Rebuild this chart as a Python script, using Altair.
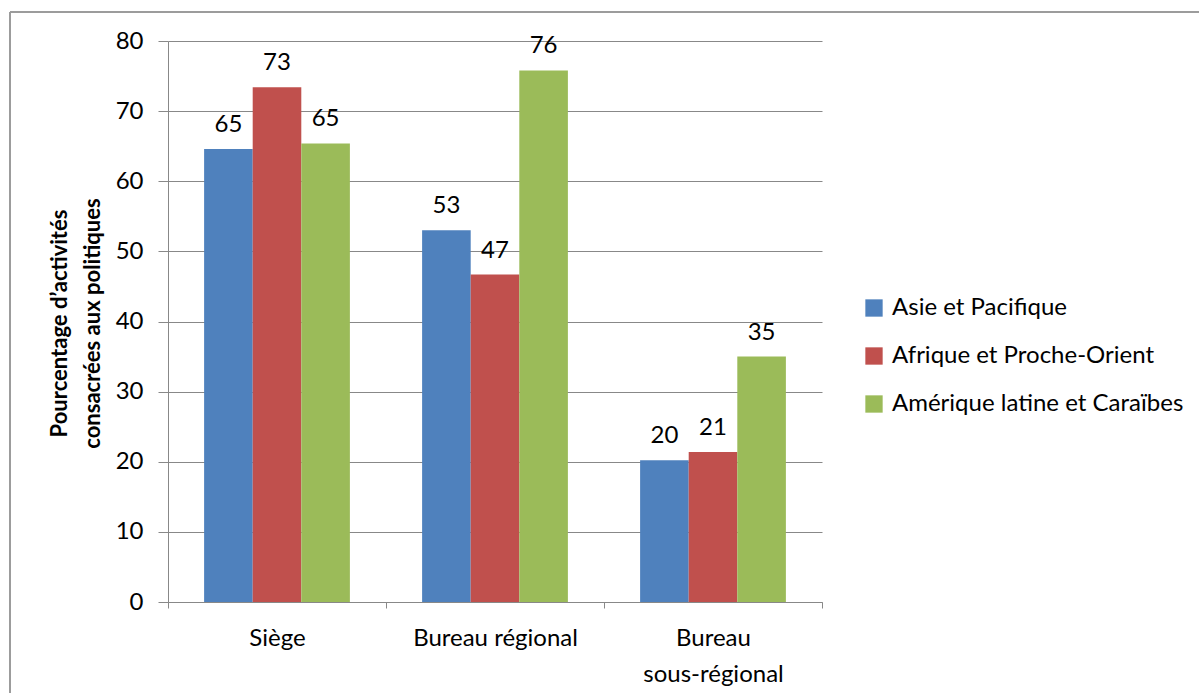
import altair as alt
import pandas as pd

# Bureaux (catégories de l'axe X) et régions (séries)
categories = ["Siège", "Bureau régional", "Bureau sous-régional"]
regions = ["Asie et Pacifique", "Afrique et Proche-Orient", "Amérique latine et Caraïbes"]

# Pourcentage d'activités consacrées aux politiques, par région
asie_pacifique = [64.6, 53.0, 20.2]
afrique_proche_orient = [73.4, 46.7, 21.4]
amerique_latine = [65.4, 75.8, 35.0]

colors = ["#4F81BD", "#C0504D", "#9BBB59"]
y_ticks = [0, 10, 20, 30, 40, 50, 60, 70, 80]

rows = []
for series_name, values in zip(regions, [asie_pacifique, afrique_proche_orient, amerique_latine]):
    for cat, v in zip(categories, values):
        rows.append({"bureau": cat, "region": series_name, "pct": v})
df = pd.DataFrame(rows)

FONT = "Lato"
FS = 24
GRID = "#888888"

x_enc = alt.X(
    "bureau:N",
    sort=categories,
    scale=alt.Scale(paddingInner=0, paddingOuter=0),
    axis=alt.Axis(
        title=None,
        labelAngle=0,
        labelFont=FONT,
        labelFontSize=FS,
        labelColor="#000000",
        labelPadding=18,
        labelLineHeight=36,
        labelLimit=0,
        labelExpr="datum.value == 'Bureau sous-régional' ? ['Bureau', 'sous-régional'] : datum.label",
        tickBand="extent",
        tickSize=6,
        tickColor=GRID,
        domainColor=GRID,
        grid=False,
    ),
)
xoff_enc = alt.XOffset(
    "region:N",
    sort=regions,
    scale=alt.Scale(paddingInner=0, paddingOuter=0.743),
)
y_enc = alt.Y(
    "pct:Q",
    scale=alt.Scale(domain=[0, 80], nice=False),
    axis=alt.Axis(
        title=["Pourcentage d’activités", "consacrées aux politiques"],
        titleFont=FONT,
        titleFontSize=22,
        titleFontWeight="bold",
        titleColor="#000000",
        titleLineHeight=33,
        titleAngle=-90,
        titleAlign="center",
        titleBaseline="alphabetic",
        titleX=-102,
        titleY=282,
        titleLimit=0,
        values=y_ticks,
        labelFont=FONT,
        labelFontSize=FS,
        labelColor="#000000",
        labelPadding=15,
        tickSize=10,
        tickColor=GRID,
        domainColor=GRID,
        gridColor=GRID,
        gridWidth=1,
    ),
)

base = alt.Chart(df).encode(x=x_enc, xOffset=xoff_enc, y=y_enc)

bars = base.mark_bar(strokeWidth=0).encode(
    color=alt.Color(
        "region:N",
        sort=regions,
        scale=alt.Scale(domain=regions, range=colors),
        legend=alt.Legend(
            title=None,
            orient="none",
            legendX=694,
            legendY=255,
            symbolType="square",
            symbolSize=300,
            symbolStrokeWidth=0,
            labelFont=FONT,
            labelFontSize=FS,
            labelColor="#000000",
            labelOffset=6,
            labelLimit=0,
            rowPadding=24,
            padding=0,
        ),
    )
)

labels = base.mark_text(
    font=FONT, fontSize=FS, color="#000000", baseline="alphabetic", dy=-17
).encode(text=alt.Text("pct:Q", format=".0f"))

# Cadre gris autour du graphique
frame_df = pd.DataFrame({"k": [0]})
frame_top = alt.Chart(frame_df).mark_rule(color="#9c9c9c", strokeWidth=2).encode(
    x=alt.value(-158), x2=alt.value(1040), y=alt.value(-29)
)
frame_left = alt.Chart(frame_df).mark_rule(color="#9c9c9c", strokeWidth=2).encode(
    x=alt.value(-158), y=alt.value(-29), y2=alt.value(660)
)

chart = (
    alt.layer(bars, labels, frame_top, frame_left)
    .properties(
        width=654,
        height=561,
        autosize=alt.AutoSizeParams(type="none"),
        padding={"left": 168, "top": 41, "right": 377, "bottom": 91},
        background="#ffffff",
    )
    .configure_view(stroke=None)
)

chart.save("out.html", embed_options={"renderer": "svg", "actions": False})
